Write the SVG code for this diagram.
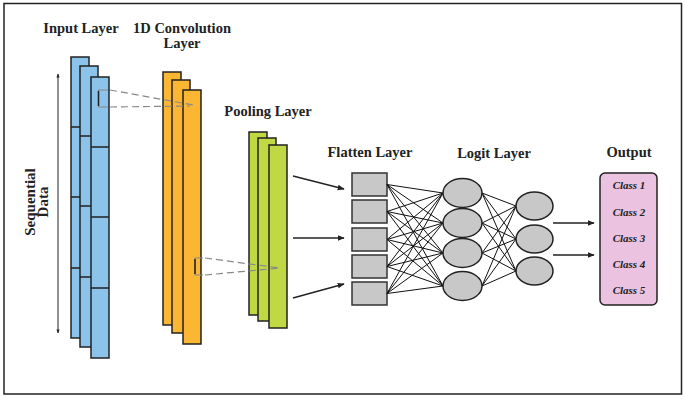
<svg xmlns="http://www.w3.org/2000/svg" width="685" height="399" viewBox="0 0 685 399">
<defs>
<style>
.t{font-family:"Liberation Serif","Times New Roman",serif;font-weight:bold;font-size:14.5px;fill:#222;text-anchor:middle}
.c{font-family:"Liberation Serif","Times New Roman",serif;font-weight:bold;font-style:italic;font-size:11px;fill:#222;text-anchor:middle}
.in{fill:#8CC3EA;stroke:#222;stroke-width:1.5}
.cv{fill:#FBB733;stroke:#222;stroke-width:1.5}
.pl{fill:#BFD844;stroke:#222;stroke-width:1.5}
.fl{fill:#C8C8C8;stroke:#333;stroke-width:1.5}
.nd{fill:#C8C8C8;stroke:#222;stroke-width:1.5}
.dv{stroke:#222;stroke-width:1.5;fill:none}
.ds{stroke:#888;stroke-width:1.2;stroke-dasharray:7,4;fill:none}
.br{stroke:#888;stroke-width:1.2;fill:none}
.ar{stroke:#222;stroke-width:1.3;fill:none;marker-end:url(#ah)}
.w{stroke:#111;stroke-width:1;fill:none}
</style>
<marker id="ah" viewBox="0 0 10 10" refX="9" refY="5" markerWidth="7" markerHeight="7" markerUnits="userSpaceOnUse" orient="auto"><path d="M0,1 L10,5 L0,9 Z" fill="#222"/></marker>
<marker id="sh" viewBox="0 0 10 10" refX="9" refY="5" markerWidth="4" markerHeight="4" markerUnits="userSpaceOnUse" orient="auto-start-reverse"><path d="M0,1 L10,5 L0,9 Z" fill="#222"/></marker>
</defs>
<rect x="0" y="0" width="685" height="399" fill="#fff"/>
<rect x="4" y="3.5" width="677.5" height="390.5" fill="none" stroke="#222" stroke-width="1.5"/>

<g id="titles">
<text class="t" x="81" y="33">Input Layer</text>
<text class="t" x="182" y="33">1D Convolution</text>
<text class="t" x="182" y="48">Layer</text>
<text class="t" x="268" y="116">Pooling Layer</text>
<text class="t" x="370" y="157">Flatten Layer</text>
<text class="t" x="494" y="158">Logit Layer</text>
<text class="t" x="629" y="157">Output</text>
<text class="t" style="font-size:15px" transform="translate(35,202) rotate(-90)">Sequential</text>
<text class="t" style="font-size:15px" transform="translate(48,202) rotate(-90)">Data</text>
</g>

<g id="sequential-arrow">
<line x1="58" y1="74" x2="58" y2="333" stroke="#222" stroke-width="1" marker-start="url(#sh)" marker-end="url(#sh)"/>
</g>

<g id="input-layer">
<rect class="in" x="71" y="57" width="18" height="281"/>
<path class="dv" d="M71,127H89M71,197H89M71,268H89"/>
<rect class="in" x="80" y="66" width="18" height="281"/>
<path class="dv" d="M80,136H98M80,206H98M80,277H98"/>
<rect class="in" x="91" y="77" width="18" height="281"/>
<path class="dv" d="M91,147H109M91,217H109M91,288H109"/>
<path class="br" d="M108,90H98.5V107H108"/>
<line x1="98.5" y1="91" x2="98.5" y2="106" stroke="#222" stroke-width="1.5"/>
</g>

<g id="conv-layer">
<rect class="cv" x="163" y="72" width="18" height="253"/>
<rect class="cv" x="172" y="80" width="18" height="253"/>
<rect class="cv" x="183" y="90" width="18" height="254"/>
<path class="br" d="M203,258H195V275H203"/>
<line x1="195" y1="259" x2="195" y2="274" stroke="#222" stroke-width="1.5"/>
</g>

<g id="pooling-layer">
<rect class="pl" x="249" y="132" width="18" height="183"/>
<rect class="pl" x="258" y="138" width="18" height="183"/>
<rect class="pl" x="269" y="145" width="18" height="183"/>
</g>

<g id="flatten-layer">
<rect class="fl" x="352" y="173" width="35" height="23"/>
<rect class="fl" x="352" y="200" width="35" height="23"/>
<rect class="fl" x="352" y="228" width="35" height="23"/>
<rect class="fl" x="352" y="255" width="35" height="23"/>
<rect class="fl" x="352" y="282" width="35" height="23"/>
</g>

<g id="connectors">
<line class="ds" x1="110" y1="90" x2="193" y2="105"/>
<line class="ds" x1="110" y1="107" x2="190" y2="106"/>
<line class="ds" x1="205" y1="258" x2="280" y2="268"/>
<line class="ds" x1="205" y1="275" x2="280" y2="268"/>
<line class="ar" x1="293" y1="176" x2="344" y2="189"/>
<line class="ar" x1="293" y1="238" x2="344" y2="238"/>
<line class="ar" x1="293" y1="298" x2="344" y2="284"/>
<line class="ar" x1="553" y1="223" x2="594" y2="223"/>
<line class="ar" x1="553" y1="255" x2="594" y2="255"/>
<path class="w" d="M387,184.5L443,193M387,184.5L443,223M387,184.5L443,253M387,184.5L443,286
M387,211.5L443,193M387,211.5L443,223M387,211.5L443,253M387,211.5L443,286
M387,239.5L443,193M387,239.5L443,223M387,239.5L443,253M387,239.5L443,286
M387,266.5L443,193M387,266.5L443,223M387,266.5L443,253M387,266.5L443,286
M387,293.5L443,193M387,293.5L443,223M387,293.5L443,253M387,293.5L443,286"/>
<path class="w" d="M482,193L516,206M482,193L516,239M482,193L516,271
M482,223L516,206M482,223L516,239M482,223L516,271
M482,253L516,206M482,253L516,239M482,253L516,271
M482,286L516,206M482,286L516,239M482,286L516,271"/>
</g>

<g id="logit-layer-1">
<ellipse class="nd" cx="462.5" cy="193" rx="19.5" ry="14.5"/>
<ellipse class="nd" cx="462.5" cy="223" rx="19.5" ry="14.5"/>
<ellipse class="nd" cx="462.5" cy="253" rx="19.5" ry="14.5"/>
<ellipse class="nd" cx="462.5" cy="286" rx="19.5" ry="14.5"/>
</g>
<g id="logit-layer-2">
<ellipse class="nd" cx="534.5" cy="206" rx="18.5" ry="14"/>
<ellipse class="nd" cx="534.5" cy="239" rx="18.5" ry="14"/>
<ellipse class="nd" cx="534.5" cy="271" rx="18.5" ry="14"/>
</g>

<g id="output">
<rect x="600" y="173" width="57" height="132" rx="5" fill="#EBC3E0" stroke="#222" stroke-width="1.5"/>
<text class="c" x="629" y="189">Class 1</text>
<text class="c" x="629" y="215.5">Class 2</text>
<text class="c" x="629" y="242">Class 3</text>
<text class="c" x="629" y="268">Class 4</text>
<text class="c" x="629" y="294">Class 5</text>
</g>
</svg>
